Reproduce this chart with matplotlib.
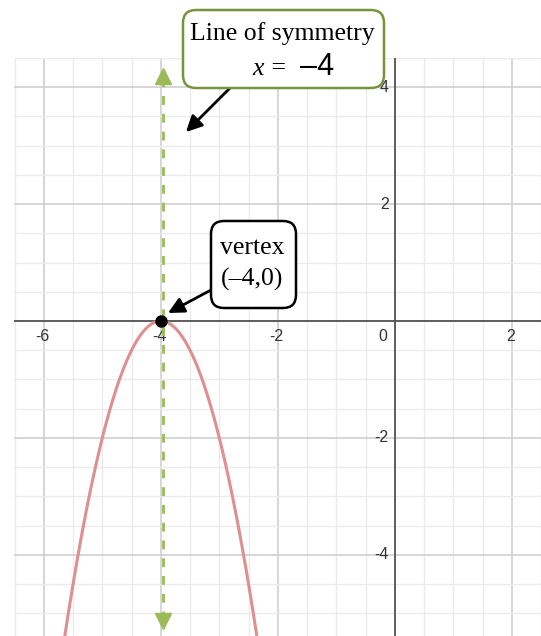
import numpy as np
import matplotlib
matplotlib.use("Agg")
import matplotlib.pyplot as plt
from matplotlib.patches import FancyBboxPatch
from matplotlib.transforms import IdentityTransform

# data
x_ticks = [-6, -4, -2, 2]
y_ticks = [-4, -2, 2, 4]
vertex = (-4, 0)
a = -2.0
x_range = (-6.51, 2.5)
y_range = (-5.39, 4.49)
sym_top, sym_bottom = 4.32, -5.12

W, H = 541, 636
fig = plt.figure(figsize=(W / 100, H / 100), dpi=100)
ax = fig.add_axes([14 / W, 0, 527 / W, 578 / H])
ax.set_xlim(*x_range)
ax.set_ylim(*y_range)

# grid
ax.set_xticks(np.arange(-6, 3, 2))
ax.set_yticks(np.arange(-4, 5, 2))
ax.set_xticks(np.arange(-6.5, 3, 0.5), minor=True)
ax.set_yticks(np.arange(-5, 5, 0.5), minor=True)
ax.grid(which="minor", color="#ebebeb", lw=1.0)
ax.grid(which="major", color="#cfcfcf", lw=1.2)
ax.tick_params(which="both", length=0, labelbottom=False, labelleft=False)
for s in ax.spines.values():
    s.set_visible(False)
ax.set_axisbelow(True)
ax.axhline(0, color="#555555", lw=1.3, zorder=1)
ax.axvline(0, color="#555555", lw=1.3, zorder=1)

tick_font = dict(family="Liberation Sans", size=11.5, color="#333333")
for xt in x_ticks:
    ax.annotate(str(xt), (xt, 0), xytext=(-1, -8), textcoords="offset pixels",
                ha="center", va="top", **tick_font)
ax.annotate("0", (0, 0), xytext=(-12, -8), textcoords="offset pixels",
            ha="center", va="top", **tick_font)
for yt in y_ticks:
    ax.annotate(str(yt), (0, yt), xytext=(-6, 0), textcoords="offset pixels",
                ha="right", va="center", **tick_font)

# parabola
xs = np.linspace(x_range[0], x_range[1], 600)
ys = a * (xs - vertex[0]) ** 2 + vertex[1]
ax.plot(xs, ys, color="#de9090", lw=2.2, zorder=3)

# line of symmetry
green = "#9bbb59"
ax.plot([vertex[0] + 0.03, vertex[0] + 0.03], [sym_bottom, sym_top - 0.2], color=green,
        lw=2, dashes=(3.2, 3.2), zorder=4)
ax.plot(vertex[0] + 0.03, sym_top - 0.12, marker="^", ms=11, color=green, mec=green, zorder=5)
ax.plot(vertex[0] + 0.03, sym_bottom - 0.01, marker="v", ms=11, color=green, mec=green, zorder=5)

# vertex point
ax.plot(*vertex, "o", color="black", ms=8, zorder=6)


def box(x0, y0, x1, y1, ec):
    p = FancyBboxPatch((x0, H - y1), x1 - x0, y1 - y0,
                       boxstyle="round,pad=0,rounding_size=13",
                       transform=IdentityTransform(), fc="white", ec=ec, lw=1.8,
                       zorder=10, clip_on=False)
    ax.add_artist(p)


def txt(s, x, y, **kw):
    ax.annotate(s, (x, H - y), xycoords="figure pixels", ha="center",
                va="center", zorder=11, annotation_clip=False, **kw)


def arrow(x0, y0, x1, y1):
    ax.annotate("", xy=(x1, H - y1), xycoords="figure pixels",
                xytext=(x0, H - y0), textcoords="figure pixels",
                annotation_clip=False,
                arrowprops=dict(arrowstyle="-|>", color="black", lw=2,
                                mutation_scale=24, shrinkA=0, shrinkB=0))


serif = dict(family="Liberation Serif", size=18.5, color="black")

box(183, 10, 384, 88, "#77933c")
txt("Line of symmetry", 282, 34, **serif)
txt("x =", 270, 69, style="italic", **serif)
txt("\u20134", 317, 67, family="Liberation Sans", size=22, color="black")
arrow(231, 87, 186, 132)

box(211, 221, 296, 308, "black")
txt("vertex", 252, 248, **serif)
txt("(\u20134,0)", 252, 279, **serif)
arrow(211, 290, 168, 313)

fig.savefig("out.png", dpi=100)
